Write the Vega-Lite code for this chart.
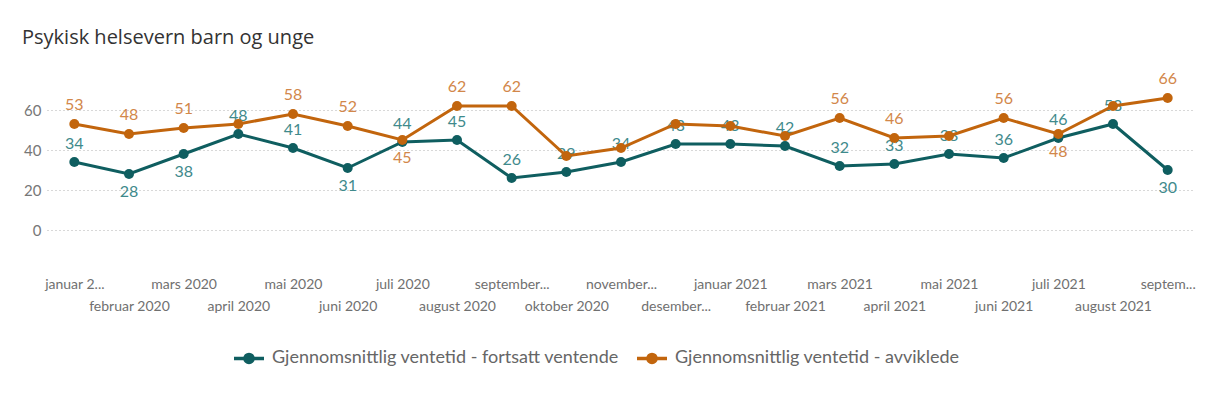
{
  "$schema": "https://vega.github.io/schema/vega-lite/v6.json",
  "autosize": "none",
  "width": 1148,
  "height": 150,
  "padding": {"left": 47, "top": 80, "right": 12, "bottom": 178},
  "background": "white",
  "title": {
    "text": "Psykisk helsevern barn og unge",
    "anchor": "start",
    "frame": "group",
    "dx": -25,
    "offset": 7,
    "baseline": "alphabetic",
    "font": "Open Sans",
    "fontSize": 20,
    "fontWeight": "normal",
    "color": "#333333"
  },
  "data": {
    "values": [
      {"maaned": "januar 2020", "serie": "Gjennomsnittlig ventetid - fortsatt ventende", "verdi": 34},
      {"maaned": "februar 2020", "serie": "Gjennomsnittlig ventetid - fortsatt ventende", "verdi": 28},
      {"maaned": "mars 2020", "serie": "Gjennomsnittlig ventetid - fortsatt ventende", "verdi": 38},
      {"maaned": "april 2020", "serie": "Gjennomsnittlig ventetid - fortsatt ventende", "verdi": 48},
      {"maaned": "mai 2020", "serie": "Gjennomsnittlig ventetid - fortsatt ventende", "verdi": 41},
      {"maaned": "juni 2020", "serie": "Gjennomsnittlig ventetid - fortsatt ventende", "verdi": 31},
      {"maaned": "juli 2020", "serie": "Gjennomsnittlig ventetid - fortsatt ventende", "verdi": 44},
      {"maaned": "august 2020", "serie": "Gjennomsnittlig ventetid - fortsatt ventende", "verdi": 45},
      {"maaned": "september 2020", "serie": "Gjennomsnittlig ventetid - fortsatt ventende", "verdi": 26},
      {"maaned": "oktober 2020", "serie": "Gjennomsnittlig ventetid - fortsatt ventende", "verdi": 29},
      {"maaned": "november 2020", "serie": "Gjennomsnittlig ventetid - fortsatt ventende", "verdi": 34},
      {"maaned": "desember 2020", "serie": "Gjennomsnittlig ventetid - fortsatt ventende", "verdi": 43},
      {"maaned": "januar 2021", "serie": "Gjennomsnittlig ventetid - fortsatt ventende", "verdi": 43},
      {"maaned": "februar 2021", "serie": "Gjennomsnittlig ventetid - fortsatt ventende", "verdi": 42},
      {"maaned": "mars 2021", "serie": "Gjennomsnittlig ventetid - fortsatt ventende", "verdi": 32},
      {"maaned": "april 2021", "serie": "Gjennomsnittlig ventetid - fortsatt ventende", "verdi": 33},
      {"maaned": "mai 2021", "serie": "Gjennomsnittlig ventetid - fortsatt ventende", "verdi": 38},
      {"maaned": "juni 2021", "serie": "Gjennomsnittlig ventetid - fortsatt ventende", "verdi": 36},
      {"maaned": "juli 2021", "serie": "Gjennomsnittlig ventetid - fortsatt ventende", "verdi": 46},
      {"maaned": "august 2021", "serie": "Gjennomsnittlig ventetid - fortsatt ventende", "verdi": 53},
      {"maaned": "september 2021", "serie": "Gjennomsnittlig ventetid - fortsatt ventende", "verdi": 30},
      {"maaned": "januar 2020", "serie": "Gjennomsnittlig ventetid - avviklede", "verdi": 53},
      {"maaned": "februar 2020", "serie": "Gjennomsnittlig ventetid - avviklede", "verdi": 48},
      {"maaned": "mars 2020", "serie": "Gjennomsnittlig ventetid - avviklede", "verdi": 51},
      {"maaned": "april 2020", "serie": "Gjennomsnittlig ventetid - avviklede", "verdi": 53},
      {"maaned": "mai 2020", "serie": "Gjennomsnittlig ventetid - avviklede", "verdi": 58},
      {"maaned": "juni 2020", "serie": "Gjennomsnittlig ventetid - avviklede", "verdi": 52},
      {"maaned": "juli 2020", "serie": "Gjennomsnittlig ventetid - avviklede", "verdi": 45},
      {"maaned": "august 2020", "serie": "Gjennomsnittlig ventetid - avviklede", "verdi": 62},
      {"maaned": "september 2020", "serie": "Gjennomsnittlig ventetid - avviklede", "verdi": 62},
      {"maaned": "oktober 2020", "serie": "Gjennomsnittlig ventetid - avviklede", "verdi": 37},
      {"maaned": "november 2020", "serie": "Gjennomsnittlig ventetid - avviklede", "verdi": 41},
      {"maaned": "desember 2020", "serie": "Gjennomsnittlig ventetid - avviklede", "verdi": 53},
      {"maaned": "januar 2021", "serie": "Gjennomsnittlig ventetid - avviklede", "verdi": 52},
      {"maaned": "februar 2021", "serie": "Gjennomsnittlig ventetid - avviklede", "verdi": 47},
      {"maaned": "mars 2021", "serie": "Gjennomsnittlig ventetid - avviklede", "verdi": 56},
      {"maaned": "april 2021", "serie": "Gjennomsnittlig ventetid - avviklede", "verdi": 46},
      {"maaned": "mai 2021", "serie": "Gjennomsnittlig ventetid - avviklede", "verdi": 47},
      {"maaned": "juni 2021", "serie": "Gjennomsnittlig ventetid - avviklede", "verdi": 56},
      {"maaned": "juli 2021", "serie": "Gjennomsnittlig ventetid - avviklede", "verdi": 48},
      {"maaned": "august 2021", "serie": "Gjennomsnittlig ventetid - avviklede", "verdi": 62},
      {"maaned": "september 2021", "serie": "Gjennomsnittlig ventetid - avviklede", "verdi": 66}
    ]
  },
  "encoding": {
    "x": {
      "field": "maaned",
      "type": "ordinal",
      "title": null,
      "scale": {
        "type": "point",
        "padding": 0.5,
        "domain": ["januar 2020", "februar 2020", "mars 2020", "april 2020", "mai 2020", "juni 2020", "juli 2020", "august 2020", "september 2020", "oktober 2020", "november 2020", "desember 2020", "januar 2021", "februar 2021", "mars 2021", "april 2021", "mai 2021", "juni 2021", "juli 2021", "august 2021", "september 2021"]
      },
      "axis": {
        "labelAngle": 0,
        "labelOverlap": false,
        "labelBound": false,
        "domain": false,
        "ticks": false,
        "grid": false,
        "labelPadding": 47,
        "labelBaseline": "top",
        "labelLineHeight": 22,
        "labelFont": "Lato",
        "labelFontSize": 14,
        "labelColor": "#707070",
        "labelExpr": "round(datum.index*20)%2==1 ? ['', datum.value=='desember 2020' ? 'desember...' : datum.value] : (datum.value=='januar 2020' ? 'januar 2...' : datum.value=='september 2020' ? 'september...' : datum.value=='november 2020' ? 'november...' : datum.value=='september 2021' ? 'septem...' : datum.value)"
      }
    },
    "y": {
      "field": "verdi",
      "type": "quantitative",
      "title": null,
      "scale": {"domain": [0, 75], "nice": false},
      "axis": {
        "values": [0, 20, 40, 60],
        "domain": false,
        "ticks": false,
        "labelPadding": 6,
        "labelFont": "Lato",
        "labelFontSize": 15,
        "labelColor": "#777777",
        "gridColor": "#b0b0b0",
        "gridDash": [1, 3],
        "gridWidth": 1
      }
    },
    "color": {
      "field": "serie",
      "type": "nominal",
      "title": null,
      "scale": {
        "domain": ["Gjennomsnittlig ventetid - fortsatt ventende", "Gjennomsnittlig ventetid - avviklede"],
        "range": ["#0F5E60", "#C2650D"]
      },
      "legend": {
        "orient": "none",
        "direction": "horizontal",
        "legendX": 185,
        "legendY": 261,
        "labelFont": "Lato",
        "labelFontSize": 18,
        "labelColor": "#666666",
        "labelLimit": 500,
        "columnPadding": 10,
        "symbolType": "M-1,0L1,0M0.27,0A0.27,0.27,0,1,1,-0.27,0A0.27,0.27,0,1,1,0.27,0Z",
        "symbolSize": 900,
        "symbolStrokeWidth": 3.5,
        "labelOffset": 6
      }
    }
  },
  "layer": [
    {
      "transform": [{"filter": "datum.serie == 'Gjennomsnittlig ventetid - fortsatt ventende'"}],
      "mark": {"type": "line", "strokeWidth": 3, "point": {"filled": true, "size": 100}}
    },
    {
      "transform": [
        {"filter": "datum.serie == 'Gjennomsnittlig ventetid - fortsatt ventende'"},
        {"filter": {"not": {"field": "maaned", "oneOf": ["februar 2020", "mars 2020", "juni 2020", "september 2021"]}}}
      ],
      "mark": {"type": "text", "dy": -18, "font": "Lato", "fontSize": 16},
      "encoding": {"text": {"field": "verdi", "type": "quantitative"}, "color": {"value": "#3F8A8C"}}
    },
    {
      "transform": [
        {"filter": "datum.serie == 'Gjennomsnittlig ventetid - fortsatt ventende'"},
        {"filter": {"field": "maaned", "oneOf": ["februar 2020", "mars 2020", "juni 2020", "september 2021"]}}
      ],
      "mark": {"type": "text", "dy": 18, "font": "Lato", "fontSize": 16},
      "encoding": {"text": {"field": "verdi", "type": "quantitative"}, "color": {"value": "#3F8A8C"}}
    },
    {
      "transform": [{"filter": "datum.serie == 'Gjennomsnittlig ventetid - avviklede'"}],
      "mark": {"type": "line", "strokeWidth": 3, "point": {"filled": true, "size": 100}}
    },
    {
      "transform": [
        {"filter": "datum.serie == 'Gjennomsnittlig ventetid - avviklede'"},
        {"filter": {"field": "maaned", "oneOf": ["januar 2020", "februar 2020", "mars 2020", "mai 2020", "juni 2020", "august 2020", "september 2020", "mars 2021", "april 2021", "juni 2021", "september 2021"]}}
      ],
      "mark": {"type": "text", "dy": -19, "font": "Lato", "fontSize": 16},
      "encoding": {"text": {"field": "verdi", "type": "quantitative"}, "color": {"value": "#D2874A"}}
    },
    {
      "transform": [
        {"filter": "datum.serie == 'Gjennomsnittlig ventetid - avviklede'"},
        {"filter": {"field": "maaned", "oneOf": ["juli 2020", "juli 2021"]}}
      ],
      "mark": {"type": "text", "dy": 18, "font": "Lato", "fontSize": 16},
      "encoding": {"text": {"field": "verdi", "type": "quantitative"}, "color": {"value": "#D2874A"}}
    }
  ],
  "config": {
    "view": {"stroke": null}
  }
}
